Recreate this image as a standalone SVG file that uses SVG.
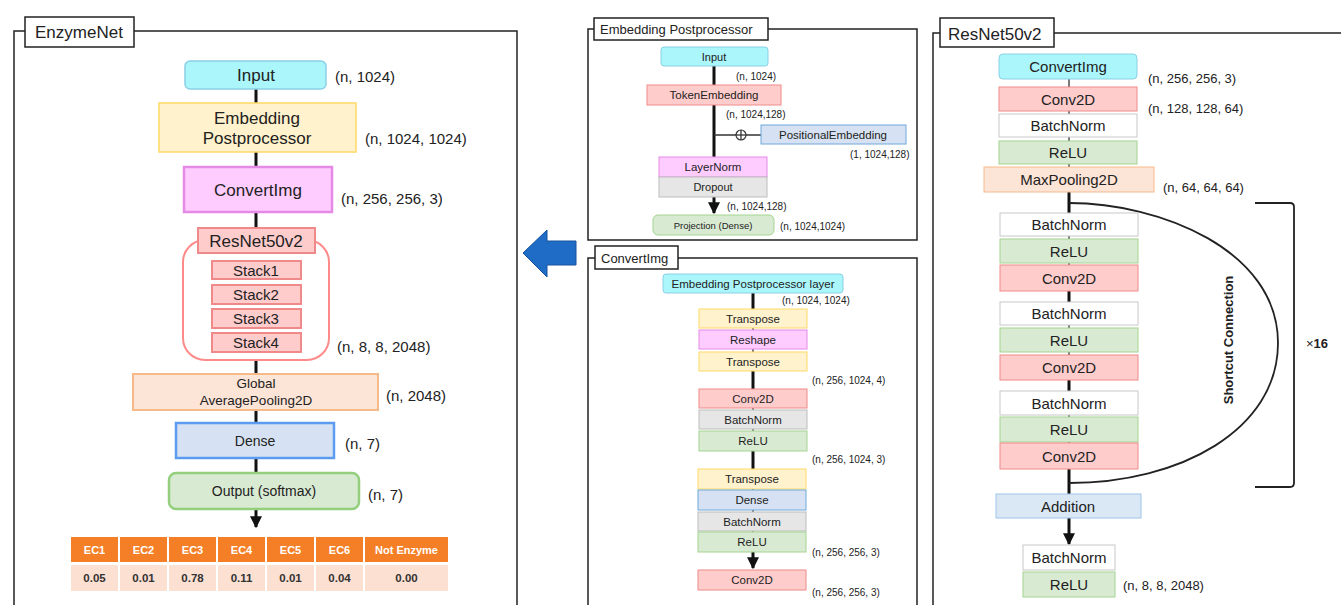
<svg xmlns="http://www.w3.org/2000/svg" width="1341" height="605" viewBox="0 0 1341 605">
<defs>
<style>
text{font-family:"Liberation Sans",Arial,sans-serif;fill:#222}
.c{text-anchor:middle}
.frame{fill:none;stroke:#222;stroke-width:1.5}
.title{fill:#fff;stroke:#222;stroke-width:1.5}
.cyan{fill:#aaf6fb;stroke:#8ad0e6}
.yellow{fill:#fff2cc;stroke:#ffd966}
.pink{fill:#ffccff;stroke:#e58ae5}
.red{fill:#ffcccc;stroke:#f08a8a}
.peach{fill:#fce4d6;stroke:#f8b98a}
.blue{fill:#d6e2f3;stroke:#6fa8dc}
.green{fill:#d9ead3;stroke:#a3d48f}
.gray{fill:#e6e6e6;stroke:#bdbdbd}
.white{fill:#fff;stroke:#c8c8c8}
.w2{stroke-width:2}
.w15{stroke-width:1.5}
.thick{stroke:#111;stroke-width:3;fill:none}
.thin{stroke:#333;stroke-width:1.3;fill:none}
.hd{fill:#f47f26}
.rw{fill:#fce0d2}
.ht{fill:#fff;font-weight:bold;font-size:11px;text-anchor:middle}
.rt{fill:#333;font-weight:bold;font-size:11.5px;text-anchor:middle}
</style>
<marker id="ah" viewBox="0 0 10 10" refX="9" refY="5" markerWidth="4" markerHeight="4" orient="auto">
<path d="M0,0 L10,5 L0,10 z" fill="#111"/>
</marker>
</defs>

<!-- Panels -->
<g id="panel-enzymenet">
<path class="frame" d="M14,605 V31 H25 M134,31 H517 V605"/>
<rect class="title" x="25" y="17" width="109" height="30"/>
<text x="35" y="38" font-size="17">EnzymeNet</text>
</g>
<g id="panel-embpost">
<path class="frame" d="M594,29 H588 V240 H917 V29 H768"/>
<rect class="title" x="594" y="18" width="174" height="22"/>
<text x="600" y="34" font-size="13">Embedding Postprocessor</text>
</g>
<g id="panel-convertimg">
<path class="frame" d="M588,605 V258 H595 M678,258 H917 V605"/>
<rect class="title" x="595" y="246" width="83" height="23"/>
<text x="601" y="263" font-size="13">ConvertImg</text>
</g>
<g id="panel-resnet">
<path class="frame" d="M933,605 V33 H940 M1054,33 H1342"/>
<rect class="title" x="940" y="18" width="114" height="29"/>
<text x="948" y="40" font-size="17">ResNet50v2</text>
</g>

<!-- Connectors -->
<g id="connectors">
<!-- EnzymeNet -->
<line class="thick" x1="256" y1="89" x2="256" y2="103"/>
<line class="thick" x1="256" y1="152" x2="256" y2="167"/>
<line class="thick" x1="256" y1="212" x2="256" y2="229"/>
<line class="thick" x1="256" y1="360" x2="256" y2="374"/>
<line class="thick" x1="256" y1="410" x2="256" y2="423"/>
<line class="thick" x1="256" y1="458" x2="256" y2="473"/>
<line class="thick" x1="256" y1="509" x2="256" y2="527" marker-end="url(#ah)"/>
<!-- Embedding postprocessor -->
<line class="thick" x1="714" y1="66" x2="714" y2="158"/>
<line class="thin" x1="714" y1="135" x2="761" y2="135"/>
<circle cx="741" cy="135" r="5" fill="#fff" stroke="#333" stroke-width="1.2"/>
<line class="thin" x1="736" y1="135" x2="746" y2="135"/>
<line class="thin" x1="741" y1="130" x2="741" y2="140"/>
<line class="thick" x1="714" y1="197" x2="714" y2="213" marker-end="url(#ah)"/>
<!-- ConvertImg -->
<line class="thin" x1="753" y1="300" x2="753" y2="552"/>
<line class="thick" x1="753" y1="293" x2="753" y2="309"/>
<line class="thick" x1="753" y1="371" x2="753" y2="389"/>
<line class="thick" x1="753" y1="451" x2="753" y2="469"/>
<line class="thick" x1="753" y1="552" x2="753" y2="568" marker-end="url(#ah)"/>
<!-- ResNet -->
<line class="thin" x1="1069" y1="79" x2="1069" y2="493"/>
<line class="thick" x1="1069" y1="192" x2="1069" y2="213"/>
<line class="thick" x1="1069" y1="291" x2="1069" y2="302"/>
<line class="thick" x1="1069" y1="380" x2="1069" y2="391"/>
<line class="thick" x1="1069" y1="469" x2="1069" y2="494"/>
<line class="thick" x1="1069" y1="518" x2="1069" y2="544" marker-end="url(#ah)"/>
<path d="M1069,203 C1160,203 1278,250 1278,343 C1278,430 1180,483 1069,483" fill="none" stroke="#222" stroke-width="1.8"/>
<path d="M1255,203 H1290 Q1294,203 1294,207 V483 Q1294,487 1290,487 H1255" fill="none" stroke="#222" stroke-width="1.8"/>
</g>

<!-- EnzymeNet nodes -->
<g id="n-input"><rect class="cyan w15" x="185" y="61" width="141" height="28" rx="5"/><text class="c" x="256" y="81" font-size="17">Input</text><text x="335" y="82" font-size="15">(n, 1024)</text></g>
<g id="n-embpost"><rect class="yellow w15" x="159" y="103" width="197" height="49"/><text class="c" x="257" y="124" font-size="17">Embedding</text><text class="c" x="257" y="144" font-size="17">Postprocessor</text><text x="365" y="144" font-size="15">(n, 1024, 1024)</text></g>
<g id="n-convertimg"><rect class="pink" x="184" y="167" width="148" height="45" stroke-width="2.5"/><text class="c" x="258" y="196" font-size="17">ConvertImg</text><text x="341" y="204" font-size="15">(n, 256, 256, 3)</text></g>
<g id="n-resnet">
<rect x="183" y="240" width="146" height="120" rx="22" fill="#fff" stroke="#ff8a8a" stroke-width="2"/>
<rect class="red w2" x="198" y="228" width="117" height="25"/><text class="c" x="256" y="247" font-size="17">ResNet50v2</text>
<rect class="red w2" x="212" y="261" width="89" height="18"/><text class="c" x="256" y="275.5" font-size="15">Stack1</text>
<rect class="red w2" x="212" y="285" width="89" height="19"/><text class="c" x="256" y="299.5" font-size="15">Stack2</text>
<rect class="red w2" x="212" y="309" width="89" height="19"/><text class="c" x="256" y="323.5" font-size="15">Stack3</text>
<rect class="red w2" x="212" y="333" width="89" height="19"/><text class="c" x="256" y="347.5" font-size="15">Stack4</text>
<text x="337" y="352" font-size="15">(n, 8, 8, 2048)</text>
</g>
<g id="n-gap"><rect class="peach w2" x="133" y="374" width="245" height="36"/><text class="c" x="256" y="388" font-size="13.5">Global</text><text class="c" x="256" y="405" font-size="13.5">AveragePooling2D</text><text x="386" y="401" font-size="15">(n, 2048)</text></g>
<g id="n-dense"><rect x="176" y="423" width="158" height="35" fill="#d6e2f3" stroke="#5b9cf0" stroke-width="2.5"/><text class="c" x="255" y="445.5" font-size="14">Dense</text><text x="345" y="449" font-size="15">(n, 7)</text></g>
<g id="n-output"><rect x="169" y="473" width="190" height="36" rx="7" fill="#d9ead3" stroke="#93cf7d" stroke-width="2.5"/><text class="c" x="264" y="496" font-size="14">Output (softmax)</text><text x="368" y="500" font-size="15">(n, 7)</text></g>
<g id="n-table">
<rect class="hd" x="71" y="537" width="47" height="25"/><rect class="hd" x="120" y="537" width="47" height="25"/><rect class="hd" x="169" y="537" width="47" height="25"/><rect class="hd" x="218" y="537" width="47" height="25"/><rect class="hd" x="267" y="537" width="47" height="25"/><rect class="hd" x="316" y="537" width="47" height="25"/><rect class="hd" x="365" y="537" width="83" height="25"/>
<rect class="rw" x="71" y="565" width="47" height="26"/><rect class="rw" x="120" y="565" width="47" height="26"/><rect class="rw" x="169" y="565" width="47" height="26"/><rect class="rw" x="218" y="565" width="47" height="26"/><rect class="rw" x="267" y="565" width="47" height="26"/><rect class="rw" x="316" y="565" width="47" height="26"/><rect class="rw" x="365" y="565" width="83" height="26"/>
<text class="ht" x="94.5" y="553.5">EC1</text><text class="ht" x="143.5" y="553.5">EC2</text><text class="ht" x="192.5" y="553.5">EC3</text><text class="ht" x="241.5" y="553.5">EC4</text><text class="ht" x="290.5" y="553.5">EC5</text><text class="ht" x="339.5" y="553.5">EC6</text><text class="ht" x="406.5" y="553.5">Not Enzyme</text>
<text class="rt" x="94.5" y="582">0.05</text><text class="rt" x="143.5" y="582">0.01</text><text class="rt" x="192.5" y="582">0.78</text><text class="rt" x="241.5" y="582">0.11</text><text class="rt" x="290.5" y="582">0.01</text><text class="rt" x="339.5" y="582">0.04</text><text class="rt" x="406.5" y="582">0.00</text>
</g>

<!-- Blue arrow -->
<g id="big-arrow"><polygon points="523,253 547,230 547,241 576,241 576,265 547,265 547,277" fill="#1f6cc6" stroke="#16529c" stroke-width="1"/></g>

<!-- Embedding Postprocessor nodes -->
<g id="e-input"><rect class="cyan" x="661" y="47" width="107" height="19" rx="3"/><text class="c" x="714" y="61" font-size="11">Input</text><text x="736" y="80" font-size="10">(n, 1024)</text></g>
<g id="e-token"><rect class="red" x="647" y="85" width="134" height="20"/><text class="c" x="714" y="99" font-size="11.5">TokenEmbedding</text><text x="726" y="118" font-size="10">(n, 1024,128)</text></g>
<g id="e-pos"><rect class="blue" x="761" y="125" width="145" height="19"/><text class="c" x="833" y="139" font-size="11.5">PositionalEmbedding</text><text x="850" y="158" font-size="10">(1, 1024,128)</text></g>
<g id="e-layernorm"><rect class="pink" x="659" y="157" width="108" height="20"/><text class="c" x="713" y="171" font-size="11.5">LayerNorm</text></g>
<g id="e-dropout"><rect class="gray" x="659" y="177" width="108" height="20"/><text class="c" x="713" y="191" font-size="11">Dropout</text><text x="727" y="210" font-size="10">(n, 1024,128)</text></g>
<g id="e-proj"><rect class="green" x="653" y="215" width="121" height="20" rx="5"/><text class="c" x="713" y="229" font-size="9.5">Projection (Dense)</text><text x="780" y="230" font-size="10">(n, 1024,1024)</text></g>

<!-- ConvertImg nodes -->
<g id="c-eplayer"><rect class="cyan" x="663" y="274" width="180" height="19" rx="3"/><text class="c" x="753" y="288" font-size="11.5">Embedding Postprocessor layer</text><text x="782" y="304" font-size="10">(n, 1024, 1024)</text></g>
<g id="c-transpose1"><rect class="yellow" x="699" y="309" width="108" height="19"/><text class="c" x="753" y="323" font-size="11.5">Transpose</text></g>
<g id="c-reshape"><rect class="pink" x="699" y="330" width="108" height="19"/><text class="c" x="753" y="344" font-size="11.5">Reshape</text></g>
<g id="c-transpose2"><rect class="yellow" x="699" y="352" width="108" height="19"/><text class="c" x="753" y="366" font-size="11.5">Transpose</text><text x="812" y="384" font-size="10">(n, 256, 1024, 4)</text></g>
<g id="c-conv1"><rect class="red" x="699" y="389" width="108" height="19"/><text class="c" x="753" y="403" font-size="11.5">Conv2D</text></g>
<g id="c-bn1"><rect class="gray" x="699" y="410" width="108" height="19"/><text class="c" x="753" y="424" font-size="11.5">BatchNorm</text></g>
<g id="c-relu1"><rect class="green" x="699" y="431" width="108" height="20"/><text class="c" x="753" y="445" font-size="11.5">ReLU</text><text x="812" y="463" font-size="10">(n, 256, 1024, 3)</text></g>
<g id="c-transpose3"><rect class="yellow" x="698" y="469" width="108" height="20" stroke="#f1c232"/><text class="c" x="752" y="483" font-size="11.5">Transpose</text></g>
<g id="c-dense"><rect class="blue" x="698" y="490" width="108" height="20"/><text class="c" x="752" y="504" font-size="11.5">Dense</text></g>
<g id="c-bn2"><rect class="gray" x="698" y="512" width="108" height="19"/><text class="c" x="752" y="526" font-size="11.5">BatchNorm</text></g>
<g id="c-relu2"><rect class="green" x="698" y="532" width="108" height="20"/><text class="c" x="752" y="546" font-size="11.5">ReLU</text><text x="812" y="556" font-size="10">(n, 256, 256, 3)</text></g>
<g id="c-conv2"><rect class="red" x="698" y="570" width="108" height="20"/><text class="c" x="752" y="584" font-size="11.5">Conv2D</text><text x="812" y="596" font-size="10">(n, 256, 256, 3)</text></g>

<!-- ResNet nodes -->
<g id="r-convertimg"><rect class="cyan" x="999" y="54" width="138" height="25" rx="4"/><text class="c" x="1068" y="72" font-size="15">ConvertImg</text><text x="1148" y="83" font-size="13">(n, 256, 256, 3)</text></g>
<g id="r-conv"><rect class="red" x="999" y="87" width="138" height="24"/><text class="c" x="1068" y="104.5" font-size="15">Conv2D</text><text x="1148" y="113" font-size="13">(n, 128, 128, 64)</text></g>
<g id="r-bn"><rect class="white" x="999" y="114" width="138" height="23"/><text class="c" x="1068" y="131" font-size="15">BatchNorm</text></g>
<g id="r-relu"><rect class="green" x="999" y="141" width="138" height="23"/><text class="c" x="1068" y="158" font-size="15">ReLU</text></g>
<g id="r-maxpool"><rect class="peach" x="984" y="167" width="170" height="25"/><text class="c" x="1069" y="185" font-size="15">MaxPooling2D</text><text x="1163" y="192" font-size="13">(n, 64, 64, 64)</text></g>
<g id="r-bn1"><rect class="white" x="1000" y="213" width="138" height="23"/><text class="c" x="1069" y="230" font-size="15">BatchNorm</text></g>
<g id="r-relu1"><rect class="green" x="1000" y="239" width="138" height="24"/><text class="c" x="1069" y="256.5" font-size="15">ReLU</text></g>
<g id="r-conv1"><rect class="red" x="1000" y="265" width="138" height="26"/><text class="c" x="1069" y="283.5" font-size="15">Conv2D</text></g>
<g id="r-bn2"><rect class="white" x="1000" y="302" width="138" height="23"/><text class="c" x="1069" y="319" font-size="15">BatchNorm</text></g>
<g id="r-relu2"><rect class="green" x="1000" y="328" width="138" height="24"/><text class="c" x="1069" y="345.5" font-size="15">ReLU</text></g>
<g id="r-conv2"><rect class="red" x="1000" y="355" width="138" height="25"/><text class="c" x="1069" y="373" font-size="15">Conv2D</text></g>
<g id="r-bn3"><rect class="white" x="1000" y="391" width="138" height="24"/><text class="c" x="1069" y="408.5" font-size="15">BatchNorm</text></g>
<g id="r-relu3"><rect class="green" x="1000" y="417" width="138" height="25"/><text class="c" x="1069" y="435" font-size="15">ReLU</text></g>
<g id="r-conv3"><rect class="red" x="1000" y="443" width="138" height="26"/><text class="c" x="1069" y="461.5" font-size="15">Conv2D</text></g>
<g id="r-add"><rect x="996" y="494" width="145" height="24" fill="#dae8f5" stroke="#9fc5e8"/><text class="c" x="1068" y="511.5" font-size="15">Addition</text></g>
<g id="r-bn4"><rect class="white" x="1023" y="545" width="92" height="25"/><text class="c" x="1069" y="563" font-size="15">BatchNorm</text></g>
<g id="r-relu4"><rect class="green" x="1023" y="572" width="92" height="25" stroke="#93c47d"/><text class="c" x="1069" y="590" font-size="15">ReLU</text><text x="1123" y="590" font-size="13">(n, 8, 8, 2048)</text></g>
<g id="r-labels">
<text class="c" transform="translate(1233,340) rotate(-90)" font-size="13" font-weight="bold">Shortcut Connection</text>
<text x="1306" y="348" font-size="13">×<tspan font-weight="bold">16</tspan></text>
</g>
</svg>
